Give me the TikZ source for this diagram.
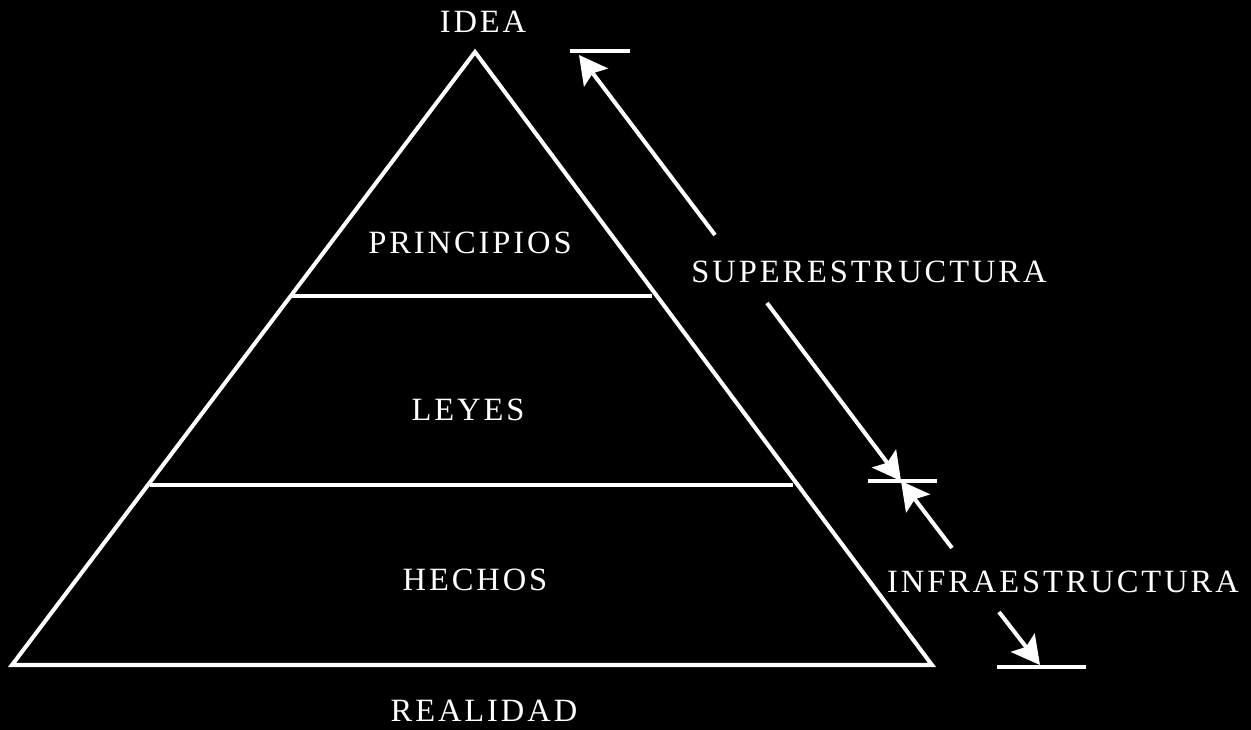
\documentclass[tikz,border=0pt]{standalone}
\usepackage{fontspec}
\setmainfont{Liberation Serif}
\newfontfamily\rotulofont[LetterSpace=9]{Liberation Serif}
\usetikzlibrary{arrows.meta}

\begin{document}
\begin{tikzpicture}[x=0.02cm,y=-0.02cm,
    linea/.style={white, line width=2.3pt},
    flecha/.style={linea, -{Stealth[length=16pt,width=17pt,inset=3pt]}},
    rotulo/.style={white, font=\rotulofont\fontsize{18.5}{20}\selectfont, inner sep=0pt}]
  \fill[black] (0,0) rectangle (1251,730);
  \useasboundingbox (0,0) rectangle (1251,730);

  % piramide
  \coordinate (cima) at (475,52);
  \coordinate (izq) at (12,665);
  \coordinate (der) at (932,665);
  \draw[linea, line join=miter] (izq) -- (cima) -- (der) -- cycle;
  \draw[linea] (292,296) -- (652,296);
  \draw[linea] (150,485) -- (793,485);

  \node[rotulo] (idea) at (483,22) {IDEA};
  \node[rotulo] (principios) at (470,243) {PRINCIPIOS};
  \node[rotulo] (leyes) at (468,410) {LEYES};
  \node[rotulo] (hechos) at (475,580) {HECHOS};
  \node[rotulo] (realidad) at (484,711) {REALIDAD};

  % estructuras
  \node[rotulo] (super) at (869,272) {SUPERESTRUCTURA};
  \node[rotulo] (infra) at (1063,582) {INFRAESTRUCTURA};

  \coordinate (tope) at (579,55);
  \coordinate (medio) at (901,481);
  \coordinate (base) at (1040,665);

  \draw[linea] (570,51) -- (630,51);
  \draw[linea] (868,481) -- (937,481);
  \draw[linea] (997,667) -- (1086,667);

  \draw[flecha] (715,235) -- (tope);
  \draw[flecha] (767,303) -- (medio);
  \draw[flecha] (952,548) -- (medio);
  \draw[flecha] (999,612) -- (base);
\end{tikzpicture}
\end{document}
